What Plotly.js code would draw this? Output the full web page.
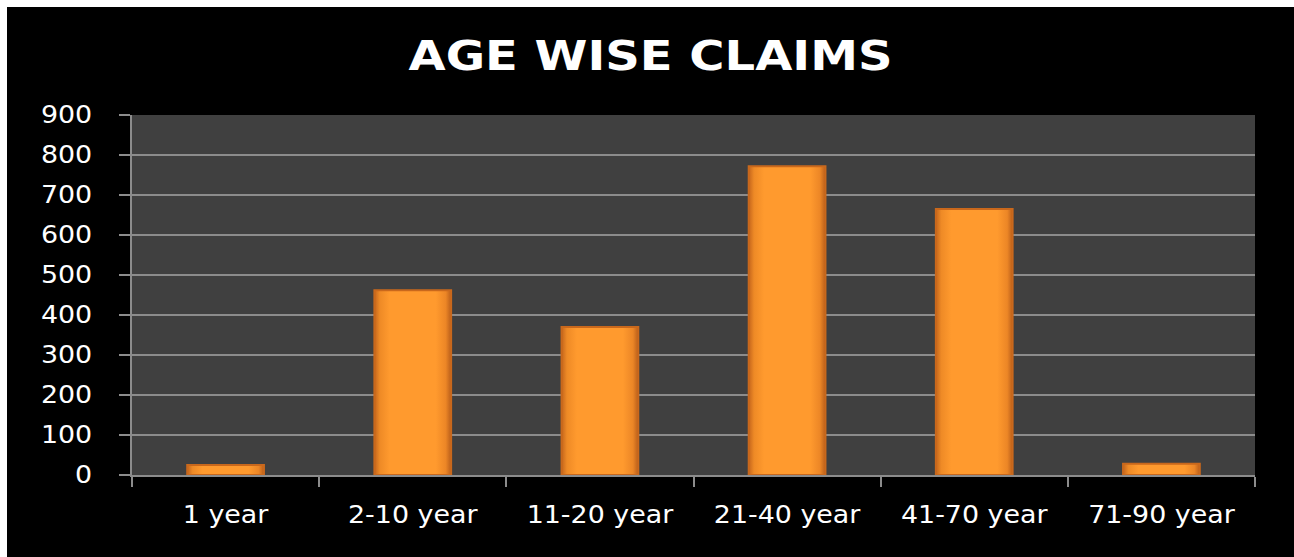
<!DOCTYPE html>
<html>
<head>
<meta charset="utf-8">
<script src="https://cdn.plot.ly/plotly-3.0.1.min.js"></script>
<style>
  html, body { margin: 0; padding: 0; background: #000000; overflow: hidden; width: 1294px; height: 557px; }
  #topstrip { position: absolute; left: 0; top: 0; width: 1294px; height: 7px; background: #ffffff; }
  #leftstrip { position: absolute; left: 0; top: 0; width: 7px; height: 557px; background: #ffffff; }
  #chart { position: absolute; left: 7px; top: 7px; width: 1287px; height: 550px; background: #000; }
</style>
</head>
<body>
<div id="topstrip"></div>
<div id="leftstrip"></div>
<div id="chart"></div>
<script>
const categories = ["1 year", "2-10 year", "11-20 year", "21-40 year", "41-70 year", "71-90 year"];
const claims = [25, 462, 370, 772, 665, 28];
const yTicks = [0, 100, 200, 300, 400, 500, 600, 700, 800, 900];

const trace = {
  type: "bar",
  x: categories,
  y: claims,
  marker: {
    color: "#FF9A2E",
    line: { color: "#C9681C", width: 2 }
  },
  hoverinfo: "x+y"
};

const layout = {
  width: 1287,
  height: 550,
  paper_bgcolor: "#000000",
  plot_bgcolor: "#404040",
  margin: { l: 125, r: 39, t: 108, b: 82 },
  bargap: 0.59,
  showlegend: false,
  title: {
    text: "<b>AGE WISE CLAIMS</b>",
    font: { family: "DejaVu Sans", size: 40, color: "#ffffff" },
    x: 0.5, xanchor: "center",
    y: 0.91, yanchor: "middle"
  },
  xaxis: {
    type: "category",
    tickson: "boundaries",
    ticks: "outside",
    ticklen: 10,
    tickwidth: 2,
    tickcolor: "#8c8c8c",
    showline: true,
    linecolor: "#8c8c8c",
    linewidth: 2,
    showgrid: false,
    ticklabelstandoff: 17,
    tickfont: { family: "DejaVu Sans", size: 24, color: "#ffffff" }
  },
  yaxis: {
    range: [0, 900],
    tickvals: yTicks,
    ticktext: yTicks.map(String),
    ticks: "outside",
    ticklen: 11,
    tickwidth: 2,
    tickcolor: "#8c8c8c",
    showline: true,
    linecolor: "#8c8c8c",
    linewidth: 2,
    showgrid: true,
    gridcolor: "#8c8c8c",
    gridwidth: 1.5,
    zeroline: false,
    ticklabelstandoff: 22,
    tickfont: { family: "DejaVu Sans", size: 24, color: "#ffffff" }
  }
};

function stretchText(el, sx) {
  const cx = parseFloat(el.getAttribute("x")) || 0;
  const prev = el.getAttribute("transform") || "";
  el.setAttribute("transform", prev + " translate(" + cx + ",0) scale(" + sx + ",1) translate(" + (-cx) + ",0)");
}

Plotly.newPlot("chart", [trace], layout, { displayModeBar: false, staticPlot: true }).then(function (gd) {
  // the reference's lettering is horizontally wide: stretch the real text a little
  gd.querySelectorAll(".gtitle").forEach(function (t) { stretchText(t, 1.2); });
  gd.querySelectorAll(".xtick text, .ytick text").forEach(function (t) { stretchText(t, 1.12); });

  // bevel-like gradient on the bars
  const svg = gd.querySelector("svg.main-svg");
  const ns = "http://www.w3.org/2000/svg";
  let defs = svg.querySelector("defs");
  if (!defs) { defs = document.createElementNS(ns, "defs"); svg.insertBefore(defs, svg.firstChild); }
  const grad = document.createElementNS(ns, "linearGradient");
  grad.setAttribute("id", "barGrad");
  grad.setAttribute("x1", "0"); grad.setAttribute("y1", "0");
  grad.setAttribute("x2", "1"); grad.setAttribute("y2", "0");
  [["0", "#C4651C"], ["0.07", "#EE8A26"], ["0.2", "#FF9A2E"], ["0.8", "#FF9A2E"], ["0.93", "#EC8626"], ["1", "#B95E1A"]].forEach(function (s) {
    const st = document.createElementNS(ns, "stop");
    st.setAttribute("offset", s[0]);
    st.setAttribute("stop-color", s[1]);
    grad.appendChild(st);
  });
  defs.appendChild(grad);
  gd.querySelectorAll(".bars .point path").forEach(function (p) {
    p.style.fill = "url(#barGrad)";
  });
});
</script>
</body>
</html>
